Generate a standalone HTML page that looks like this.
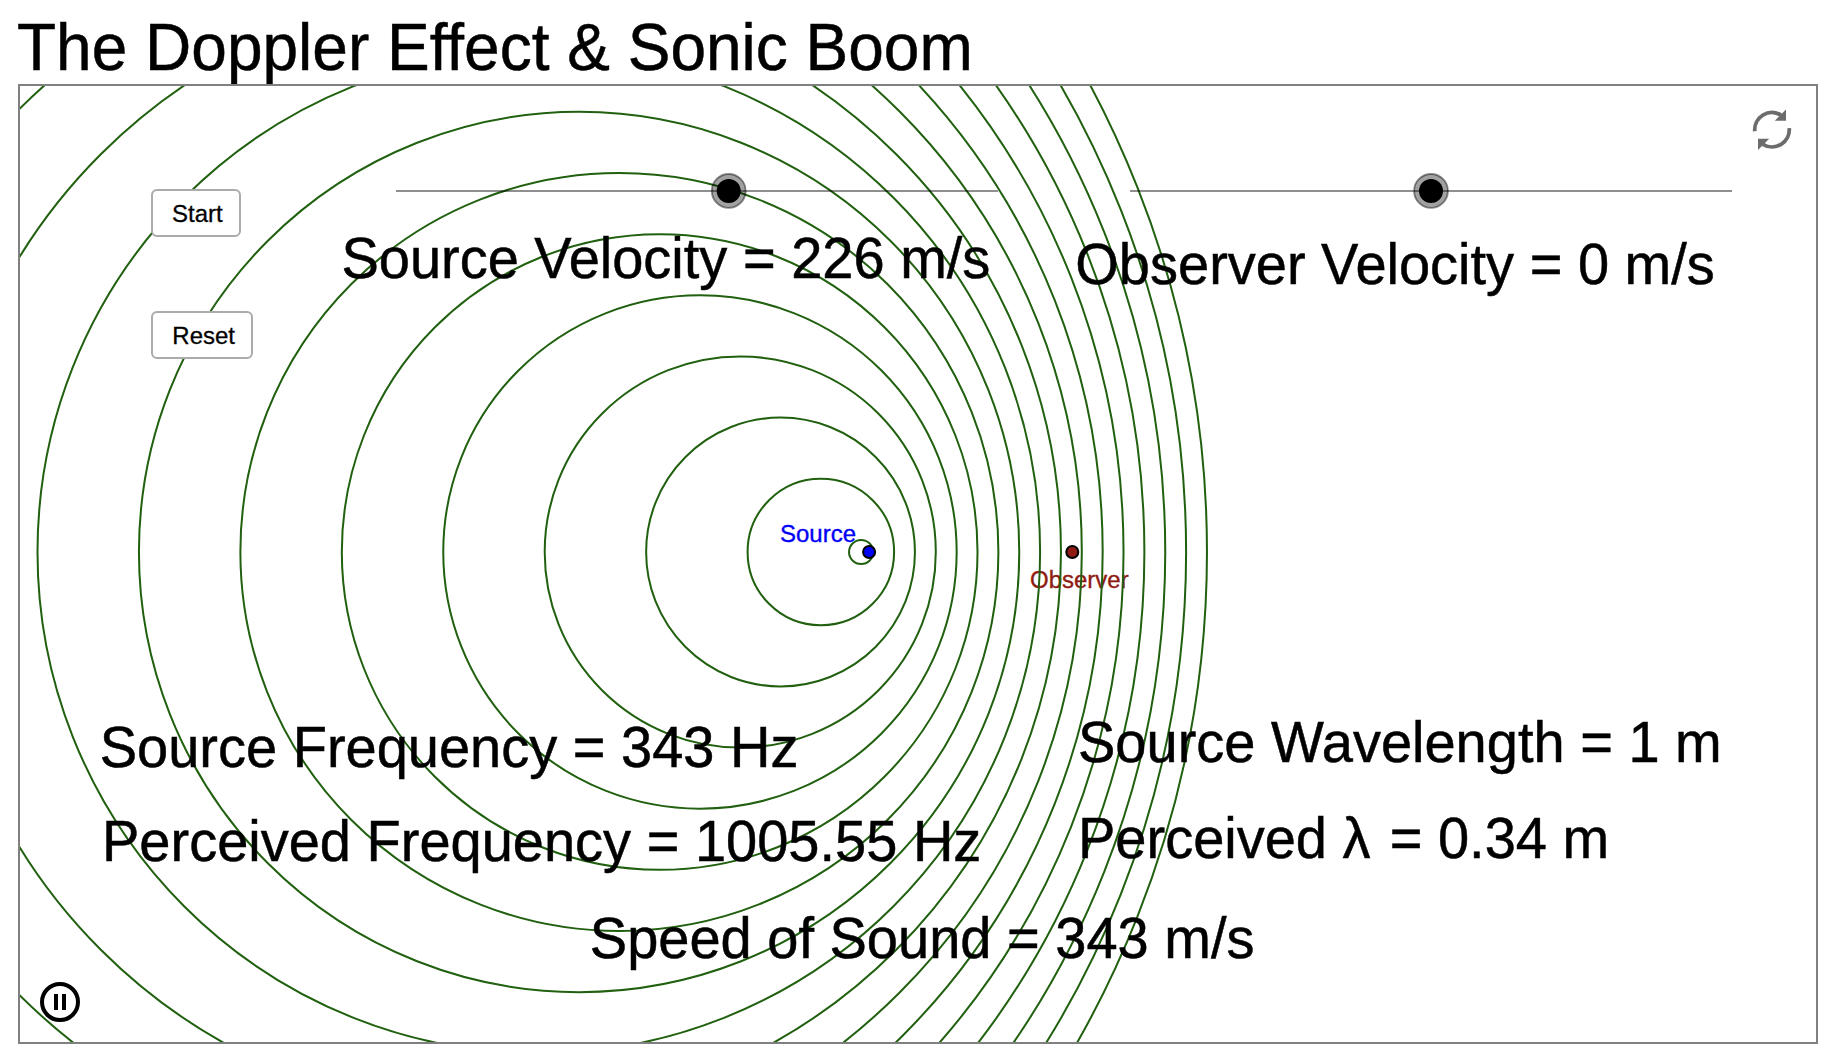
<!DOCTYPE html>
<html lang="en">
<head>
<meta charset="utf-8">
<title>The Doppler Effect &amp; Sonic Boom</title>
<style>
html,body{margin:0;padding:0;background:#fff;}
body{width:1838px;height:1056px;overflow:hidden;position:relative;font-family:"Liberation Sans",Arial,Helvetica,sans-serif;color:#000;}
h1{position:absolute;left:17px;top:11px;margin:0;font-weight:normal;font-size:64px;line-height:74px;white-space:nowrap;
   transform:scaleY(1.04);transform-origin:0 59.2px;-webkit-text-stroke:0.5px #000;}
#applet{position:absolute;left:18px;top:84px;width:1796px;height:956px;border:2px solid #808080;overflow:hidden;background:#fff;}
#applet svg{position:absolute;left:-20px;top:-86px;font-family:"Liberation Sans",Arial,Helvetica,sans-serif;}
</style>
</head>
<body>
<h1>The Doppler Effect &amp; Sonic Boom</h1>
<div id="applet">
<svg width="1838" height="1056" viewBox="0 0 1838 1056">
<!-- observer label sits beneath the wavefronts -->
<text transform="translate(1030 588.3) scale(1 1.025)" font-size="24" fill="#8f1b12" stroke="#8f1b12" stroke-width="0.35" >Observer</text>
<!-- wavefronts -->
<g fill="none" stroke="#20600f" stroke-width="2">
<circle cx="861.13" cy="552.0" r="12.10"/>
<circle cx="820.84" cy="552.0" r="73.25"/>
<circle cx="780.54" cy="552.0" r="134.40"/>
<circle cx="740.25" cy="552.0" r="195.55"/>
<circle cx="699.96" cy="552.0" r="256.70"/>
<circle cx="659.67" cy="552.0" r="317.85"/>
<circle cx="619.38" cy="552.0" r="379.00"/>
<circle cx="579.09" cy="552.0" r="440.15"/>
<circle cx="538.80" cy="552.0" r="501.30"/>
<circle cx="498.51" cy="552.0" r="562.45"/>
<circle cx="458.21" cy="552.0" r="623.60"/>
<circle cx="417.92" cy="552.0" r="684.75"/>
<circle cx="377.63" cy="552.0" r="745.90"/>
<circle cx="337.34" cy="552.0" r="807.05"/>
<circle cx="297.05" cy="552.0" r="868.20"/>
<circle cx="256.76" cy="552.0" r="929.35"/>
<circle cx="216.47" cy="552.0" r="990.50"/>
</g>
<!-- sliders -->
<g>
<rect x="396" y="190" width="602" height="2" fill="rgba(0,0,0,0.44)"/>
<rect x="1130" y="190" width="602" height="2" fill="rgba(0,0,0,0.44)"/>
<circle cx="728.7" cy="190.9" r="16.9" fill="rgba(0,0,0,0.37)" stroke="rgba(0,0,0,0.45)" stroke-width="1.8"/>
<circle cx="728.7" cy="190.9" r="12" fill="#000"/>
<circle cx="1431" cy="190.9" r="16.9" fill="rgba(0,0,0,0.37)" stroke="rgba(0,0,0,0.45)" stroke-width="1.8"/>
<circle cx="1431" cy="190.9" r="12" fill="#000"/>
</g>
<!-- buttons -->
<rect x="152" y="190" width="88" height="46" rx="5" ry="5" fill="#fff" stroke="#ababab" stroke-width="2"/>
<rect x="152" y="312" width="100" height="46" rx="5" ry="5" fill="#fff" stroke="#ababab" stroke-width="2"/>
<text transform="translate(172.1 222.0) scale(1 1.025)" font-size="24" fill="#000" stroke="#000" stroke-width="0.3" >Start</text>
<text transform="translate(172.3 344.0) scale(1 1.025)" font-size="24" fill="#000" stroke="#000" stroke-width="0.3" >Reset</text>
<!-- text labels -->
<text transform="translate(341.4 278.0) scale(1 1.04)" font-size="56" fill="#000" stroke="#000" stroke-width="0.5" >Source Velocity = 226 m/s</text>
<text transform="translate(1075.3 284.1) scale(1 1.04)" font-size="56" fill="#000" stroke="#000" stroke-width="0.5" >Observer Velocity = 0 m/s</text>
<text transform="translate(99.7 766.6) scale(1 1.04)" font-size="56" fill="#000" stroke="#000" stroke-width="0.5" >Source Frequency = 343 Hz</text>
<text transform="translate(102.0 860.6) scale(1 1.04)" font-size="56" fill="#000" stroke="#000" stroke-width="0.5" >Perceived Frequency = 1005.55 Hz</text>
<text transform="translate(1078.0 762.4) scale(1 1.04)" font-size="56" fill="#000" stroke="#000" stroke-width="0.5" >Source Wavelength = 1 m</text>
<text transform="translate(1078.0 858.4) scale(1 1.04)" font-size="56" fill="#000" stroke="#000" stroke-width="0.5" >Perceived λ<tspan dx="3.6"> = 0.34 m</tspan></text>
<text transform="translate(589.8 958.0) scale(1 1.04)" font-size="56" fill="#000" stroke="#000" stroke-width="0.5" >Speed of Sound = 343 m/s</text>
<!-- points -->
<text transform="translate(780 542.3) scale(1 1.025)" font-size="24" fill="#0000f5" stroke="#0000f5" stroke-width="0.35" >Source</text>
<circle cx="869.1" cy="552" r="6" fill="#0000f5" stroke="#000" stroke-width="2"/>
<circle cx="1072.3" cy="552" r="6" fill="#8f1b12" stroke="#000" stroke-width="2"/>
<!-- refresh icon -->
<g transform="translate(1772 129.7)" fill="none" stroke="#6c6c6c" stroke-width="3.8">
<path d="M-17.2 1.6 A17.2 17.2 0 0 1 9 -14.6"/>
<path d="M17.2 -1.6 A17.2 17.2 0 0 1 -9 14.6"/>
<path d="M14 -20.2 L14 -9 L2.8 -9 Z" fill="#6c6c6c" stroke="none"/>
<path d="M-14 20.2 L-14 9 L-2.8 9 Z" fill="#6c6c6c" stroke="none"/>
</g>
<!-- pause icon -->
<circle cx="60" cy="1002" r="18" fill="#fff" stroke="#000" stroke-width="4"/>
<rect x="54" y="994" width="4" height="16" fill="#000"/>
<rect x="62" y="994" width="4" height="16" fill="#000"/>
</svg>
</div>
</body>
</html>
